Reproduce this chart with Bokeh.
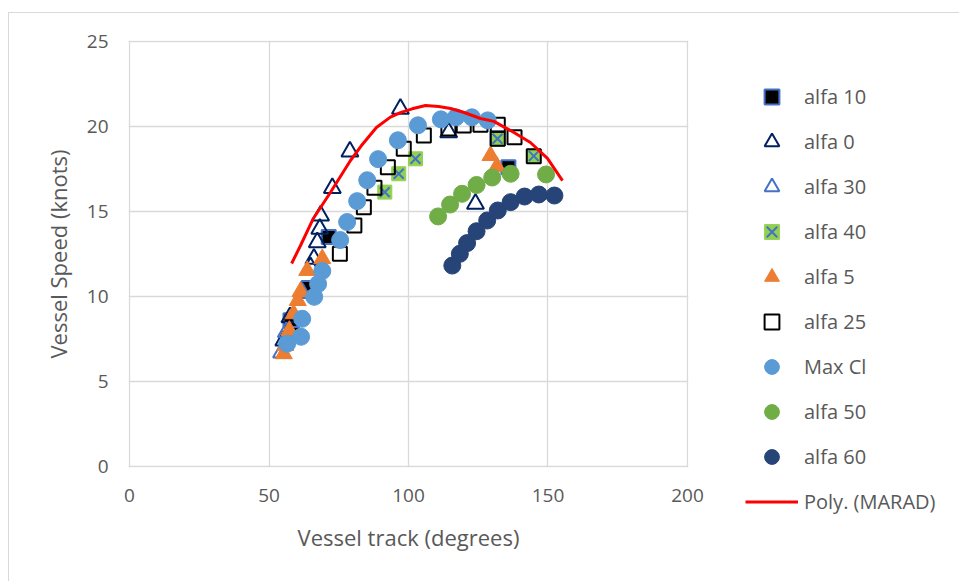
from bokeh.plotting import figure
from bokeh.models import Legend, LegendItem, Range1d, FixedTicker, InlineStyleSheet
from bokeh.embed import file_html
from bokeh.resources import INLINE

# ---------------- data ----------------
x_ticks = [0, 50, 100, 150, 200]
y_ticks = [0, 5, 10, 15, 20, 25]

alfa10_x = [57.7, 58.3, 64.2, 71.4, 131.9, 135.8]
alfa10_y = [8.6, 7.8, 10.5, 13.5, 19.3, 17.6]

alfa0_x = [97.1, 79.0, 72.7, 68.5, 68.2, 67.3, 66.1, 64.9, 114.4, 124.0, 57.5, 55.3]
alfa0_y = [21.04, 18.53, 16.38, 14.76, 13.98, 13.19, 12.22, 11.72, 19.66, 15.45, 8.78, 7.41]

alfa30_x = [54.5, 56.2, 62.0]
alfa30_y = [6.7, 7.9, 10.2]

alfa40_x = [91.5, 96.5, 102.5, 131.9, 144.9]
alfa40_y = [16.14, 17.22, 18.10, 19.28, 18.26]

alfa5_x = [55.3, 55.9, 57.3, 58.8, 60.3, 61.3, 63.7, 69.1, 129.4, 131.7]
alfa5_y = [6.63, 7.12, 8.0, 8.98, 9.76, 10.29, 11.53, 12.22, 18.29, 17.65]

alfa25_x = [75.4, 80.6, 84.0, 87.8, 92.6, 98.3, 105.5, 114.3, 119.8, 125.8, 132.0, 138.0, 132.0, 144.9]
alfa25_y = [12.51, 14.18, 15.25, 16.39, 17.61, 18.69, 19.47, 19.88, 20.06, 20.1, 20.1, 19.37, 19.28, 18.25]

maxcl_x = [56.5, 61.5, 61.9, 66.2, 67.6, 69.1, 75.5, 78.0, 81.6, 85.2, 89.1, 96.2, 103.4, 111.6, 117.0, 122.7, 128.4]
maxcl_y = [7.22, 7.63, 8.69, 9.98, 10.74, 11.50, 13.32, 14.38, 15.61, 16.84, 18.08, 19.19, 20.07, 20.42, 20.54, 20.54, 20.36]

alfa50_x = [110.6, 114.9, 119.2, 124.4, 130.0, 136.6, 149.3]
alfa50_y = [14.71, 15.41, 16.04, 16.56, 17.0, 17.22, 17.18]

alfa60_x = [115.7, 118.4, 121.0, 124.4, 128.2, 132.0, 136.6, 141.6, 146.7, 152.3]
alfa60_y = [11.82, 12.51, 13.14, 13.84, 14.47, 15.06, 15.55, 15.88, 16.0, 15.94]

poly_x = [58.1, 61.3, 65.9, 72.0, 79.2, 83.0, 88.5, 93.5, 97.1, 101.3, 106.1, 110.8, 115.1, 119.7, 125.8, 130.6, 136.6, 143.7, 149.8, 155.2]
poly_y = [11.94, 13.0, 14.59, 16.12, 18.0, 18.85, 19.94, 20.55, 20.82, 21.04, 21.24, 21.18, 21.06, 20.84, 20.47, 20.3, 19.76, 19.06, 18.12, 16.82]

legend_labels = ["alfa 10", "alfa 0", "alfa 30", "alfa 40", "alfa 5",
                 "alfa 25", "Max Cl", "alfa 50", "alfa 60", "Poly. (MARAD)"]

# ---------------- styles ----------------
FONT = "Open Sans"
TXT = "#595959"
GRID = "#D9D9D9"

main_css = InlineStyleSheet(css="""
:host { position: relative; }
:host::after { content: ''; position: absolute; left: 8px; top: 12px; right: 0; bottom: 0;
  border-left: 1px solid #D9D9D9; border-top: 1px solid #D9D9D9; pointer-events: none; }
""")

STY = {
    "alfa 10": dict(marker="square", size=14, fill_color="black", line_color="#4472C4", line_width=2),
    "alfa 0": dict(marker="triangle", size=17, fill_alpha=0, line_color="#002060", line_width=2),
    "alfa 30": dict(marker="triangle", size=17, fill_alpha=0, line_color="#4472C4", line_width=2),
    "alfa 40a": dict(marker="square", size=14, fill_color="#92D050", line_color="#92D050", line_width=1),
    "alfa 40b": dict(marker="x", size=14, line_color="#4472C4", line_width=2),
    "alfa 5": dict(marker="triangle", size=17, fill_color="#ED7D31", line_color="#ED7D31", line_width=1),
    "alfa 25": dict(marker="square", size=14, fill_alpha=0, line_color="black", line_width=2),
    "Max Cl": dict(marker="circle", size=17, fill_color="#5B9BD5", line_color="#5B9BD5"),
    "alfa 50": dict(marker="circle", size=17, fill_color="#70AD47", line_color="#70AD47"),
    "alfa 60": dict(marker="circle", size=17, fill_color="#264478", line_color="#264478"),
}
POLY = dict(line_color="#FF0000", line_width=3)

SERIES = {
    "alfa 10": (alfa10_x, alfa10_y),
    "alfa 0": (alfa0_x, alfa0_y),
    "alfa 30": (alfa30_x, alfa30_y),
    "alfa 40": (alfa40_x, alfa40_y),
    "alfa 5": (alfa5_x, alfa5_y),
    "alfa 25": (alfa25_x, alfa25_y),
    "Max Cl": (maxcl_x, maxcl_y),
    "alfa 50": (alfa50_x, alfa50_y),
    "alfa 60": (alfa60_x, alfa60_y),
    "Poly. (MARAD)": (poly_x, poly_y),
}

# ---------------- figure ----------------
p = figure(width=959, height=581, frame_width=560, frame_height=427,
           output_backend="svg", toolbar_location=None,
           x_range=Range1d(-0.36, 200.36), y_range=Range1d(-0.059, 25.059),
           min_border_left=128, min_border_right=271, min_border_top=40, min_border_bottom=114)
p.stylesheets = [main_css]
p.outline_line_color = None
p.background_fill_color = "white"
p.border_fill_color = "white"

for ax in (p.xaxis[0], p.yaxis[0]):
    ax.axis_line_color = None
    ax.major_tick_line_color = None
    ax.minor_tick_line_color = None
    ax.major_tick_out = 0
    ax.major_tick_in = 0
    ax.major_label_text_font = FONT
    ax.major_label_text_font_size = "19px"
    ax.major_label_text_color = TXT
    ax.axis_label_text_font = FONT
    ax.axis_label_text_font_size = "22px"
    ax.axis_label_text_font_style = "normal"
    ax.axis_label_text_color = TXT

p.xaxis.ticker = FixedTicker(ticks=x_ticks)
p.yaxis.ticker = FixedTicker(ticks=y_ticks)
p.xaxis.axis_label = "Vessel track (degrees)"
p.yaxis.axis_label = "Vessel Speed (knots)"
p.xaxis.major_label_standoff = 21
p.yaxis.major_label_standoff = 20
p.xaxis.axis_label_standoff = 17
p.yaxis.axis_label_standoff = 11

p.xgrid.grid_line_color = GRID
p.ygrid.grid_line_color = GRID
p.xgrid.grid_line_width = 1.3
p.ygrid.grid_line_width = 1.3

items = []
for lab in legend_labels:
    xs, ys = SERIES[lab]
    if lab == "Poly. (MARAD)":
        rs = [p.line(xs, ys, **POLY)]
    elif lab == "alfa 40":
        rs = [p.scatter(xs, ys, **STY["alfa 40a"]), p.scatter(xs, ys, **STY["alfa 40b"])]
    else:
        rs = [p.scatter(xs, ys, **STY[lab])]
    items.append(LegendItem(label=lab, renderers=rs))

legend = Legend(items=items, location=(57, -52.5), orientation="vertical",
                glyph_width=53, glyph_height=37, label_height=37, spacing=8,
                label_standoff=6, padding=0, margin=0,
                border_line_color=None, background_fill_alpha=0,
                label_text_font=FONT, label_text_font_size="20px", label_text_color=TXT)
p.add_layout(legend, "right")

open("out.html", "w").write(file_html(p, INLINE))
